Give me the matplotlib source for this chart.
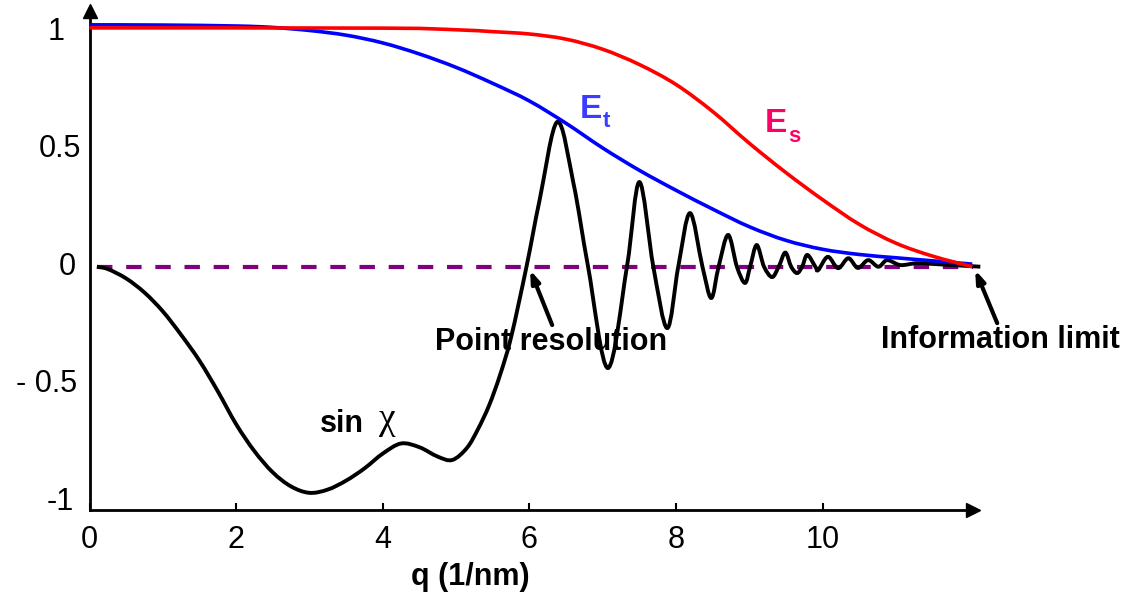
import numpy as np
import matplotlib.pyplot as plt
from matplotlib.path import Path
from matplotlib.patches import PathPatch

plt.rcParams['font.family'] = ['Liberation Sans', 'DejaVu Sans']

# values
q_sin = [0.1, 0.25, 0.5, 0.75, 1.0, 1.25, 1.5, 1.75, 2.0, 2.25, 2.5, 2.75,
         3.0, 3.25, 3.5, 3.75, 4.0, 4.25, 4.5, 4.75, 4.95, 5.15, 5.3, 5.45,
         5.6, 5.75, 5.96, 6.14, 6.38, 6.6, 6.8, 7.07, 7.33,
         7.5, 7.69, 7.88, 8.03, 8.19, 8.36, 8.48, 8.58, 8.71, 8.83, 8.94, 9.01,
         9.1, 9.2, 9.31, 9.4, 9.49, 9.57, 9.65, 9.72, 9.79, 9.9, 9.94, 10.07,
         10.21, 10.35, 10.48, 10.62, 10.76, 10.88, 11.06, 11.29, 11.6, 12.15]
sin_chi = [0.0, -0.01, -0.05, -0.11, -0.19, -0.29, -0.40, -0.53, -0.67, -0.785,
           -0.875, -0.935, -0.962, -0.948, -0.91, -0.858, -0.795, -0.752, -0.768,
           -0.808, -0.822, -0.77, -0.69, -0.59, -0.46, -0.3, 0.0,
           0.285, 0.616, 0.356, 0.0, -0.431, 0.0, 0.36, 0.0, -0.261, 0.0, 0.228,
           0.0, -0.133, 0.0, 0.135, 0.0, -0.069, 0.0, 0.092, 0.0, -0.044, 0.0,
           0.06, 0.0, -0.027, 0.0, 0.05, 0.0, -0.014, 0.042, -0.006, 0.036,
           -0.005, 0.028, 0.0, 0.028, 0.007, 0.015, 0.01, 0.0]

q_et = [0.0, 1.0, 2.0, 2.5, 3.0, 3.5, 4.0, 4.5, 5.0, 5.5, 6.0, 6.5, 7.0, 7.5,
        8.0, 8.5, 9.0, 9.5, 10.0, 10.5, 11.0, 11.5, 12.04]
e_t = [1.029, 1.028, 1.024, 1.018, 1.005, 0.985, 0.952, 0.905, 0.848, 0.78,
       0.705, 0.61, 0.505, 0.41, 0.325, 0.245, 0.17, 0.112, 0.074, 0.052,
       0.038, 0.025, 0.011]

q_es = [0.0, 4.0, 5.0, 5.5, 6.0, 6.5, 7.0, 7.5, 8.0, 8.5, 9.0, 9.5, 10.0,
        10.5, 11.0, 11.5, 12.04]
e_s = [1.016, 1.015, 1.008, 1.0, 0.99, 0.968, 0.925, 0.86, 0.775, 0.66, 0.525,
       0.4, 0.285, 0.18, 0.1, 0.045, 0.0]

q_zero = [0.1, 12.05]
zero_line = [0.0, 0.0]

xtick_vals = [0, 2, 4, 6, 8, 10]
xtick_labels = ['0', '2', '4', '6', '8', '10']
ytick_vals = [1, 0.5, 0, -0.5, -1]
ytick_labels = ['1', '0.5', '0', '- 0.5', '-1']
ytick_shift = [-17, 0, -5, -4, -7]   # px, the labels are not lined up on the right


def smooth_path(x, y):
    # catmull-rom through the points, drawn as bezier segments
    p = np.column_stack([x, y])
    p = np.vstack([p[0], p, p[-1]])
    verts = [p[1]]
    codes = [Path.MOVETO]
    for i in range(1, len(p) - 2):
        c1 = p[i] + (p[i + 1] - p[i - 1]) / 6.
        c2 = p[i + 1] - (p[i + 2] - p[i]) / 6.
        verts += [c1, c2, p[i + 1]]
        codes += [Path.CURVE4] * 3
    return Path(verts, codes)


fig = plt.figure(figsize=(11.29, 5.99), dpi=100)
ax = fig.add_axes([89.5 / 1129, 89 / 599, 883.5 / 1129, 499.5 / 599])
ax.set_xlim(0, 12.05)
ax.set_ylim(-1.035, 1.09)

for s in ['top', 'right']:
    ax.spines[s].set_visible(False)
for s in ['left', 'bottom']:
    ax.spines[s].set_linewidth(2)
ax.plot(1, 0, '>', ms=10, color='k', transform=ax.transAxes, clip_on=False)
ax.plot(0, 1, '^', ms=10, color='k', transform=ax.transAxes, clip_on=False)

ax.plot(q_zero, zero_line, color='#800080', lw=3, dashes=(3.7, 3.3), zorder=2)
ax.add_patch(PathPatch(smooth_path(q_sin, sin_chi), fill=False, ec='k', lw=2.8,
                       clip_on=False, zorder=3))
ax.add_patch(PathPatch(smooth_path(q_et, e_t), fill=False, ec='#0000ff', lw=2.6,
                       clip_on=False, zorder=4))
ax.add_patch(PathPatch(smooth_path(q_es, e_s), fill=False, ec='#ff0000', lw=2.6,
                       clip_on=False, zorder=5))

ax.set_xticks(xtick_vals, xtick_labels)
ax.tick_params(axis='x', direction='in', length=5, width=1.5, pad=11, labelsize=22)
ax.set_yticks(ytick_vals, [''] * len(ytick_vals))
ax.tick_params(axis='y', direction='in', length=0)
ax.set_yticks([0.5, -0.5], minor=True)
ax.tick_params(axis='y', which='minor', direction='in', length=11, width=1.5)
ytr = ax.get_yaxis_transform()
for v, lab, dx in zip(ytick_vals, ytick_labels, ytick_shift):
    ax.annotate(lab, xy=(0, v), xycoords=ytr, xytext=(-6 + dx * 0.72, 0),
                textcoords='offset points', ha='right', va='center',
                fontsize=22, annotation_clip=False)

ax.set_xlabel('q (1/nm)', fontsize=22, fontweight='bold')
ax.xaxis.set_label_coords(0.4307, -0.134)
ax.xaxis.label.set_va('center')

# curve labels
ax.text(6.69, 0.633, 'E', color='#3c3cff', fontsize=24, fontweight='bold', va='baseline')
ax.text(7.0, 0.594, 't', color='#3c3cff', fontsize=16, fontweight='bold', va='baseline')
ax.text(9.21, 0.573, 'E', color='#ff0066', fontsize=24, fontweight='bold', va='baseline')
ax.text(9.53, 0.531, 's', color='#ff0066', fontsize=16, fontweight='bold', va='baseline')
ax.text(3.14, -0.703, 'sin', fontsize=22, fontweight='bold', va='baseline')
ax.text(3.93, -0.69, 'χ', fontsize=27, family=['Liberation Serif', 'DejaVu Serif'],
        va='baseline')

arrow = dict(arrowstyle='-|>,head_length=0.7,head_width=0.25', color='k', lw=3,
             shrinkA=0, shrinkB=0)
ax.annotate('', xy=(6.01, -0.014), xytext=(6.31, -0.248), arrowprops=arrow,
            annotation_clip=False)
ax.annotate('', xy=(12.08, -0.014), xytext=(12.38, -0.24), arrowprops=arrow,
            annotation_clip=False)
ax.text(6.29, -0.354, 'Point resolution', fontsize=22, fontweight='bold',
        ha='center', va='baseline')
ax.text(12.42, -0.347, 'Information limit', fontsize=22, fontweight='bold',
        ha='center', va='baseline', clip_on=False)

fig.savefig('out.png', dpi=100)
